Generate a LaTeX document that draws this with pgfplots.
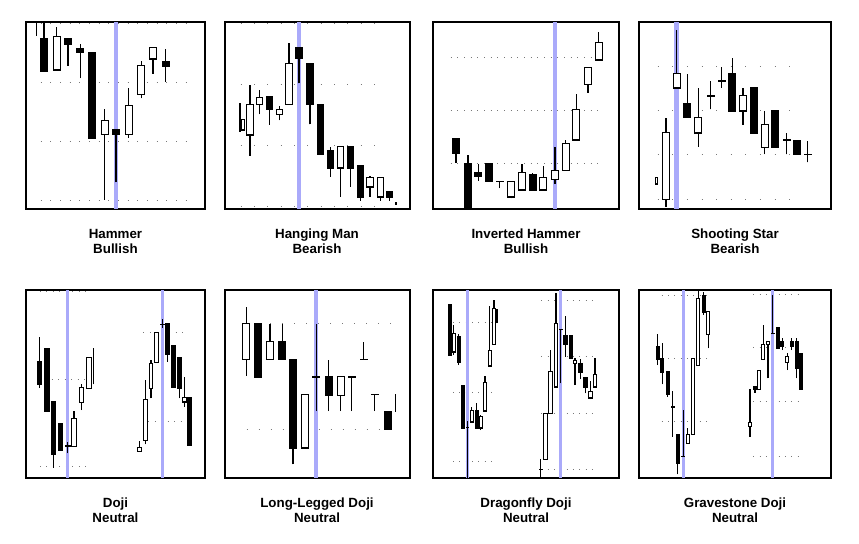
\documentclass[border=0pt]{standalone}
\usepackage{fontspec}
\setmainfont{Liberation Sans}
\usepackage{pgfplots}
\usepackage{pgfplotstable}
\pgfplotsset{compat=1.18}
\definecolor{hl}{RGB}{170,170,250}
\definecolor{dotc}{RGB}{120,120,120}

\pgfplotsset{cpanel/.style={scale only axis, xmin=0, ymin=0, xtick=\empty, ytick=\empty,
  axis line style={line width=0.8pt, black}, anchor=south west}}

\newcommand\wk[2]{\addplot[draw=none, no markers, forget plot, error bars/.cd, y dir=plus, y explicit, error mark=none,
  error bar style={draw=black, solid, line width=#2}] table[x=x, y=lo, y error plus expr={\thisrow{hi}-\thisrow{lo}}] {#1};}
\newcommand\bd[3]{\addplot[draw=none, no markers, forget plot, error bars/.cd, y dir=both, y explicit, error mark=none,
  error bar style={draw=#3, solid, line width=#2}] table[x=x, y=b, y error plus expr={\thisrow{t}-\thisrow{b}+0.5}, y error minus expr={0.5}] {#1};}
\newcommand\wb[2]{\addplot[draw=none, no markers, forget plot, error bars/.cd, y dir=plus, y explicit, error mark=none,
  error bar style={draw=white, solid, line width=#2}] table[x=x, y expr={\thisrow{b}+0.5}, y error plus expr={\thisrow{t}-\thisrow{b}-1}] {#1};}
\newcommand\cs[4]{\wk{#1}{0.9pt}\wk{#2}{0.9pt}\bd{#2}{#3}{black}\bd{#1}{#3}{black}\wb{#1}{#4}}
\newcommand\hl[3]{\addplot[draw=hl, line width=#3, forget plot] coordinates {(#1,0) (#1,#2)};}
\newcommand\dl[4]{\addplot[draw=dotc, line width=0.75pt, dash pattern=on 0.75pt off #4, forget plot] coordinates {(#2,#1) (#3,#1)};}

% ---------- Panel 1: Hammer ----------
\pgfplotstableread{
x lo hi b t
30.7 139 182.3 139 172.3
78.7 9 99.7 74.7 88
102.7 71.3 120.7 74.7 103.3
115.3 110.7 148 114.7 143.3
127 135.3 162.3 150 161.7
}\PaW
\pgfplotstableread{
x lo hi b t
18 138 192 138 170.7
42 143.3 171.3 164.7 170.7
54.3 130.7 164.7 156.7 160.7
66 70.7 156.3 70.7 156.3
90 26.7 79.3 75.3 79.3
139.7 127.3 160 143.3 147.3
}\PaB
\pgfplotstableread{
x lo hi
10.7 173.3 195
}\PaX
% ---------- Panel 2: Hanging Man ----------
\pgfplotstableread{
x lo hi b t
25 53.3 124 74 104.7
34.3 94.7 119 104.7 111.7
54.3 88.7 103.3 94.7 99.7
64 104.7 165.7 104.7 145
115.3 12.3 62.7 41.3 62.7
145 12.3 33.3 22.3 31.3
155.3 8 31.7 12.3 31.7
}\PbW
\pgfplotstableread{
x lo hi b t
44.3 84 112.3 99.7 112.3
74 125.7 161.3 150.7 161.3
85 84.7 145 104.7 145
95.3 54.7 104.7 54.7 104.7
105.3 32.3 62 41.3 58
125.3 22.3 62.7 41.3 62.7
135.3 8 43 12.3 43
164.7 8 17 12.3 17
}\PbB
\pgfplotstableread{
x lo hi b t
18 79 89 79 89
}\PbN
\pgfplotstableread{
x lo hi
15 77.3 105.7
171 4 7.3
}\PbX
% ---------- Panel 3: Inverted Hammer ----------
\pgfplotstableread{
x lo hi b t
78.3 10.7 27.7 12 27.7
89 19.3 45 19.3 36.7
110.3 19.3 43.3 19.3 31.3
122 25 62.3 29.7 38.7
132.7 38.7 69 38.7 65
143.3 69.3 115 69.3 99.7
155 116.3 142.3 124.7 141.3
165.7 149 176.7 149 166.3
}\PcW
\pgfplotstableread{
x lo hi b t
23 46.3 70 56.3 70
35 1.3 54 1.3 45.7
45.3 28.3 45 33 36.7
56.3 28 45.7 28 45.7
66.7 20.7 27.7 27.7 27.7
99.7 18.3 36 19.3 34.7
}\PcB
% ---------- Panel 4: Shooting Star ----------
\pgfplotstableread{
x lo hi b t
27 2.3 90.7 9.7 76
37.7 121 179 121 135.7
59.3 62.3 120.7 76 91
104 84 120.7 98.3 113.3
125.7 54.7 98.3 61.7 84
}\PdW
\pgfplotstableread{
x lo hi b t
48.3 91.7 135 91.7 105.7
71.7 99.7 128 113.3 113.3
82.7 121.3 142.3 128 128
93.3 98.3 150.7 98.3 135.7
114.7 76 121 76 121
136 61.7 98.3 61.7 98.3
147.7 54.7 76 69 69
158 54.7 68.3 54.7 68.3
168.7 46.7 68.3 54.7 54.7
}\PdB
\pgfplotstableread{
x lo hi b t
17.7 25 31.7 25 31.7
}\PdN
% ---------- Panel 5: Doji ----------
\pgfplotstableread{
x lo hi b t
48 32 67 32 59.7
55.3 68 93.7 75.7 90.3
62.7 89.7 121 89.7 121
}\PeW
\pgfplotstableread{
x lo hi b t
13.3 90.3 141.3 93.7 116.3
20.7 67.3 129.7 67.3 129.7
27.3 10.3 76.3 23.7 76.3
34.3 27.7 54.7 27.7 54.7
41.7 24.7 36.3 32.3 32.3
}\PeB
\pgfplotstableread{
x lo hi b t
113.7 27 37.3 27 31
119.3 33.7 98 37.7 79
125 79.7 118 89.7 114.3
130.7 115.7 146 115.7 146
158.3 71.3 101.3 76.3 80.3
}\PeV
\pgfplotstableread{
x lo hi b t
136.3 150.3 158.7 153.7 153.7
141.7 116.3 154.7 123.7 154.7
147.7 91.3 133 91.3 132.3
153.3 79.7 121 89.7 121
163.3 33 80.3 33 80.3
}\PeC
\pgfplotstableread{
x lo hi
67.3 93.7 129.7
}\PeX
% ---------- Panel 6: Long-Legged Doji ----------
\pgfplotstableread{
x lo hi b t
21.3 102.3 171.3 119 154.7
45 119 153.7 119 136.3
80 30.3 83.7 30.3 83.7
115.7 67 101.3 83 101.3
}\PfW
\pgfplotstableread{
x lo hi b t
33.3 101 154.7 101 154.7
57.3 119 153.7 119 136.3
68 13.7 119 30.3 119
91.3 67 153.7 101.3 101.3
103.7 67 118 83 101.3
126.7 67 101.3 101.3 101.3
138.7 119 136.3 119 119
149.7 67 83.7 83.7 83.7
162.7 48.7 66.3 48.7 66.3
}\PfB
\pgfplotstableread{
x lo hi
170.7 66.3 83.7
}\PfX
% ---------- Panel 7: Dragonfly Doji ----------
\pgfplotstableread{
x lo hi b t
20.7 123 153 126.3 144.7
38.7 56.3 71.3 56.3 68
47.7 48 63 50.3 61.3
52 67.3 102.3 67.3 95.7
56.7 112.3 172.3 112.3 128
61 133.7 178 133.7 169
}\PgW
\pgfplotstableread{
x lo hi b t
16.7 123 173 123 173
25.7 113 143.7 116.3 141.3
30 49.7 93 49.7 93
34.3 0.3 57 50.7 50.7
43.7 50.3 74.7 50.3 68
}\PgB
\pgfplotstableread{
x lo hi b t
112.3 18.7 64.7 18.7 64.7
117.3 64.7 128 64.7 106.3
123 91.3 184.7 91.3 154.7
142 93 120.3 114.7 117.3
157.3 79 97 80.3 87
162 91.3 120.3 91.3 103.7
}\PgV
\pgfplotstableread{
x lo hi b t
107.7 0.3 18.7 8.7 8.7
127.7 94.7 149 149 149
132.3 121.3 162.3 133.7 143
137.7 120.3 143 120.3 143
147.3 99 119 105.7 114.7
152.3 84.7 100.3 91.3 100.3
}\PgC
\pgfplotstableread{
x lo hi
64 154.7 169
}\PgX
% ---------- Panel 8: Gravestone Doji ----------
\pgfplotstableread{
x lo hi b t
48.7 34.7 49.7 34.7 44
54.3 44 119.7 44 119.7
59.3 113 187 113 179.7
69.3 129.7 166.3 143.7 166.3
}\PhW
\pgfplotstableread{
x lo hi b t
18.7 113 143.7 119 132
23.3 93.7 134.7 106.3 119.7
28.7 81.3 107 83.7 107
33.7 41.3 87 71.3 71.3
38.7 3.7 44 15.3 44
44.3 22 68 22 22
64.7 163 186.3 166.3 182.3
}\PhB
\pgfplotstableread{
x lo hi b t
111 41.3 88.7 52 55.3
119.7 89 108 89 108
124.3 119 153 119 134
129 99.7 137 134 137
148.3 108 124.7 115.7 122
}\PhV
\pgfplotstableread{
x lo hi b t
116 85.3 92 89 92
133.7 144.7 183 144.7 144.7
138.7 129.7 150.7 129.7 150.7
143.3 128 140.3 132 137
152.7 128 140 132 137
157.7 99.7 140 110.3 137
162.3 89 124.7 89 124.7
}\PhC

\begin{document}
\begin{tikzpicture}
\path[use as bounding box] (0,0) rectangle (644.25pt,407.25pt);

% Panel 1
\begin{axis}[cpanel, at={(19.5pt,250.5pt)}, width=134.25pt, height=140.25pt, xmax=179, ymax=187]
\dl{185.5}{14.7}{160.7}{6.5pt}\dl{126.3}{14.7}{160.7}{6.5pt}\dl{67.3}{14.7}{160.7}{6.5pt}\dl{8.3}{14.7}{160.7}{6.5pt}
\hl{90}{187}{2.8pt}
\wk{\PaX}{0.9pt}
\cs{\PaW}{\PaB}{6pt}{4.5pt}
\end{axis}

% Panel 2
\begin{axis}[cpanel, at={(168.75pt,250.5pt)}, width=138.75pt, height=140.25pt, xmax=185, ymax=187]
\dl{185.5}{15.7}{162}{9.25pt}\dl{124}{15.7}{162}{9.25pt}\dl{63}{15.7}{162}{9.25pt}\dl{2}{15.7}{162}{9.25pt}
\hl{74}{187}{3.2pt}
\wk{\PbX}{0.9pt}
\cs{\PbW}{\PbB}{5.6pt}{4.1pt}
\cs{\PbN}{\PbB}{2.4pt}{0.9pt}
\end{axis}

% Panel 3
\begin{axis}[cpanel, at={(324.75pt,250.5pt)}, width=139.5pt, height=140.25pt, xmax=186, ymax=187]
\dl{151}{17.7}{166.7}{4.25pt}\dl{98.3}{17.7}{166.7}{4.25pt}\dl{45.7}{17.7}{166.7}{4.25pt}
\hl{121.7}{187}{2.8pt}
\cs{\PcW}{\PcB}{6pt}{4.5pt}
\end{axis}

% Panel 4
\begin{axis}[cpanel, at={(479.25pt,250.5pt)}, width=144pt, height=140.25pt, xmax=192, ymax=187]
\dl{142.3}{18.7}{164.3}{10.2pt}\dl{98.3}{18.7}{164.3}{10.2pt}\dl{54}{18.7}{164.3}{10.2pt}\dl{9.7}{18.7}{164.3}{10.2pt}
\hl{37.7}{187}{3.75pt}
\cs{\PdW}{\PdB}{6pt}{4.5pt}
\cs{\PdN}{\PdB}{2.4pt}{0.9pt}
\end{axis}

% Panel 5
\begin{axis}[cpanel, at={(19.5pt,48.75pt)}, width=134.25pt, height=141pt, xmax=179, ymax=188]
\dl{186}{14}{65.7}{4.1pt}\dl{98.7}{25.7}{65.7}{4.1pt}\dl{11.3}{14}{65.7}{4.1pt}
\dl{146}{117.3}{162.3}{4.1pt}\dl{57}{122.3}{157.3}{4.1pt}
\hl{41.7}{188}{2.2pt}\hl{136.3}{188}{2.2pt}
\wk{\PeX}{0.9pt}
\cs{\PeW}{\PeB}{4.2pt}{2.7pt}
\cs{\PeV}{\PeC}{3.6pt}{2.1pt}
\end{axis}

% Panel 6
\begin{axis}[cpanel, at={(168.75pt,48.75pt)}, width=138.75pt, height=141pt, xmax=185, ymax=188]
\dl{154.7}{45}{166.7}{8.25pt}\dl{48.7}{21.7}{157}{8.25pt}
\hl{91.3}{188}{3.2pt}
\wk{\PfX}{0.9pt}
\cs{\PfW}{\PfB}{6pt}{4.5pt}
\end{axis}

% Panel 7
\begin{axis}[cpanel, at={(324.75pt,48.75pt)}, width=139.5pt, height=141pt, xmax=186, ymax=188]
\dl{155.3}{20}{63.3}{4pt}\dl{85.3}{20}{63.3}{4pt}\dl{16.3}{20}{63.3}{4pt}
\dl{177}{108.3}{163.3}{4pt}\dl{121.3}{108.3}{163.3}{4pt}\dl{64.7}{108.3}{163.3}{4pt}\dl{8.7}{108.3}{163.3}{4pt}
\hl{34.3}{188}{2.2pt}\hl{127.7}{188}{2.2pt}
\wk{\PgX}{0.9pt}
\cs{\PgW}{\PgB}{2.7pt}{1.3pt}
\cs{\PgV}{\PgC}{3.3pt}{1.8pt}
\end{axis}

% Panel 8
\begin{axis}[cpanel, at={(479.25pt,48.75pt)}, width=144pt, height=141pt, xmax=192, ymax=188]
\dl{182.3}{22.7}{67.7}{4pt}\dl{119.7}{22.7}{67.7}{4pt}\dl{56.3}{22.7}{67.7}{4pt}
\dl{183}{114.3}{159.3}{4pt}\dl{130.3}{114.3}{159.3}{4pt}\dl{76.3}{114.3}{159.3}{4pt}\dl{21.3}{114.3}{159.3}{4pt}
\hl{44.3}{188}{2.2pt}\hl{133.7}{188}{2.2pt}
\cs{\PhW}{\PhB}{3pt}{1.5pt}
\cs{\PhV}{\PhC}{3pt}{1.5pt}
\end{axis}

% Labels
\begin{scope}[every node/.style={anchor=base, font=\bfseries, inner sep=0pt}]
\node at (86.6pt,228.5pt) {Hammer};        \node at (86.6pt,217.3pt) {Bullish};
\node at (237.75pt,228.5pt) {Hanging Man}; \node at (237.75pt,217.3pt) {Bearish};
\node at (394.5pt,228.5pt) {Inverted Hammer}; \node at (394.5pt,217.3pt) {Bullish};
\node at (551.25pt,228.5pt) {Shooting Star}; \node at (551.25pt,217.3pt) {Bearish};
\node at (86.6pt,26.8pt) {Doji};              \node at (86.6pt,15.5pt) {Neutral};
\node at (237.75pt,26.8pt) {Long-Legged Doji}; \node at (237.75pt,15.5pt) {Neutral};
\node at (394.5pt,26.8pt) {Dragonfly Doji};   \node at (394.5pt,15.5pt) {Neutral};
\node at (551.25pt,26.8pt) {Gravestone Doji}; \node at (551.25pt,15.5pt) {Neutral};
\end{scope}
\end{tikzpicture}
\end{document}
